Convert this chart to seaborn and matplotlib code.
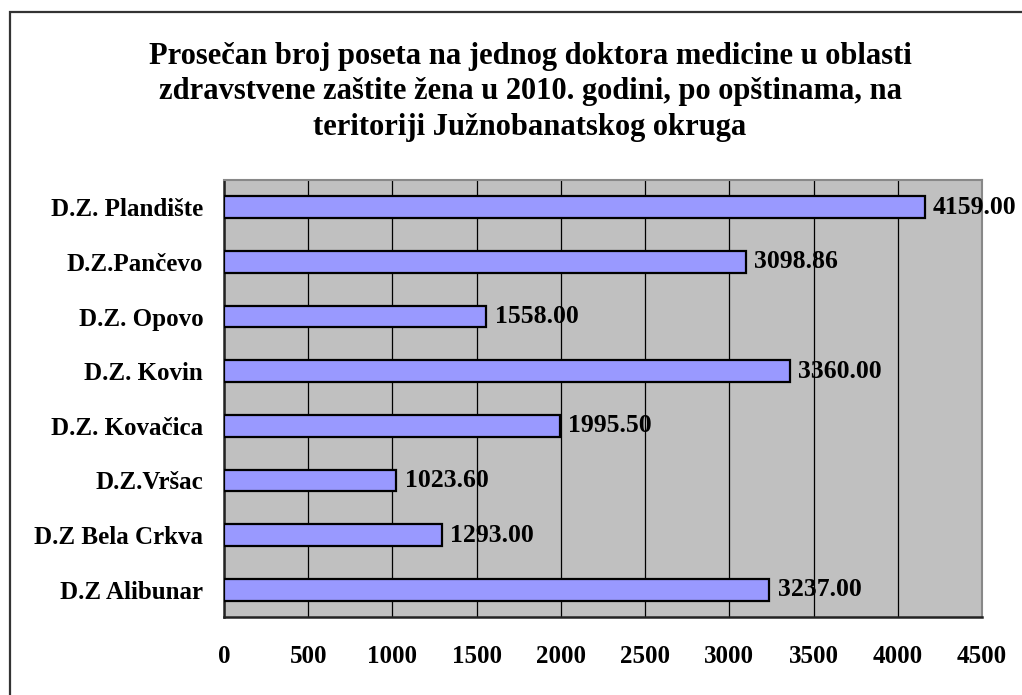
import matplotlib
matplotlib.use("Agg")
import matplotlib.pyplot as plt
from matplotlib.patches import Rectangle
from matplotlib.ticker import FixedLocator
import seaborn as sns
import pandas as pd

ustanove = ["D.Z. Plandište", "D.Z.Pančevo", "D.Z. Opovo", "D.Z. Kovin",
            "D.Z. Kovačica", "D.Z.Vršac", "D.Z Bela Crkva", "D.Z Alibunar"]
posete = [4159.00, 3098.86, 1558.00, 3360.00, 1995.50, 1023.60, 1293.00, 3237.00]
x_ticks = [0, 500, 1000, 1500, 2000, 2500, 3000, 3500, 4000, 4500]

naslov = ("Prosečan broj poseta na jednog doktora medicine u oblasti\n"
          "zdravstvene zaštite žena u 2010. godini, po opštinama, na\n"
          "teritoriji Južnobanatskog okruga")

df = pd.DataFrame({"ustanova": ustanove, "posete": posete})

sns.set_style("white")
plt.rcParams["font.family"] = ["Liberation Serif", "DejaVu Serif"]
plt.rcParams["font.weight"] = "bold"
plt.rcParams["text.color"] = "black"
plt.rcParams["xtick.color"] = "black"
plt.rcParams["ytick.color"] = "black"

fig = plt.figure(figsize=(10.22, 6.95), dpi=100)
fig.patch.set_facecolor("white")
ax = fig.add_axes([224 / 1022, 1 - 617 / 695, (982 - 224) / 1022, (617 - 180) / 695])
ax.set_facecolor("#C0C0C0")

sns.barplot(data=df, x="posete", y="ustanova", orient="h", color="#9999FF",
            saturation=1, width=0.4, edgecolor="black", linewidth=1.6, ax=ax, zorder=3)

ax.set_xlim(0, 4500)
ax.set_ylim(len(ustanove) - 0.5, -0.5)
ax.set_xticks(x_ticks)
ax.set_xticklabels([str(t) for t in x_ticks], fontsize=18, fontweight="bold")
ax.grid(axis="x", color="black", linewidth=0.9, zorder=1)
ax.set_axisbelow(True)

ax.tick_params(axis="y", which="major", length=0, pad=15, labelsize=18,
               labelcolor="black")
ax.yaxis.set_minor_locator(FixedLocator([i - 0.5 for i in range(len(ustanove) + 1)]))
ax.tick_params(axis="y", which="minor", length=7, width=1, color="black", direction="out")
ax.tick_params(axis="x", which="major", length=8, width=1, color="black",
               direction="out", pad=12.5, labelcolor="black")
for lab in ax.get_yticklabels():
    lab.set_fontweight("bold")

ax.set_xlabel("")
ax.set_ylabel("")

for side in ["left", "bottom"]:
    ax.spines[side].set_color("#222222")
    ax.spines[side].set_linewidth(1.8)
for side in ["top", "right"]:
    ax.spines[side].set_color("#888888")
    ax.spines[side].set_linewidth(1.5)

ax.bar_label(ax.containers[0], labels=[f"{v:.2f}" for v in posete], padding=6,
             fontsize=18.5, fontweight="bold", color="black", zorder=5, clip_on=False)

fig.text(530 / 1022, 1 - 92 / 695, naslov, ha="center", va="center", color="black",
         fontsize=22, fontweight="bold", linespacing=1.3)

fig.patches.append(Rectangle((10 / 1022, -0.2), 1.2, 0.2 + 1 - 12 / 695,
                             transform=fig.transFigure, fill=False,
                             edgecolor="#333333", linewidth=1.6))

fig.savefig("out.png", dpi=100)
